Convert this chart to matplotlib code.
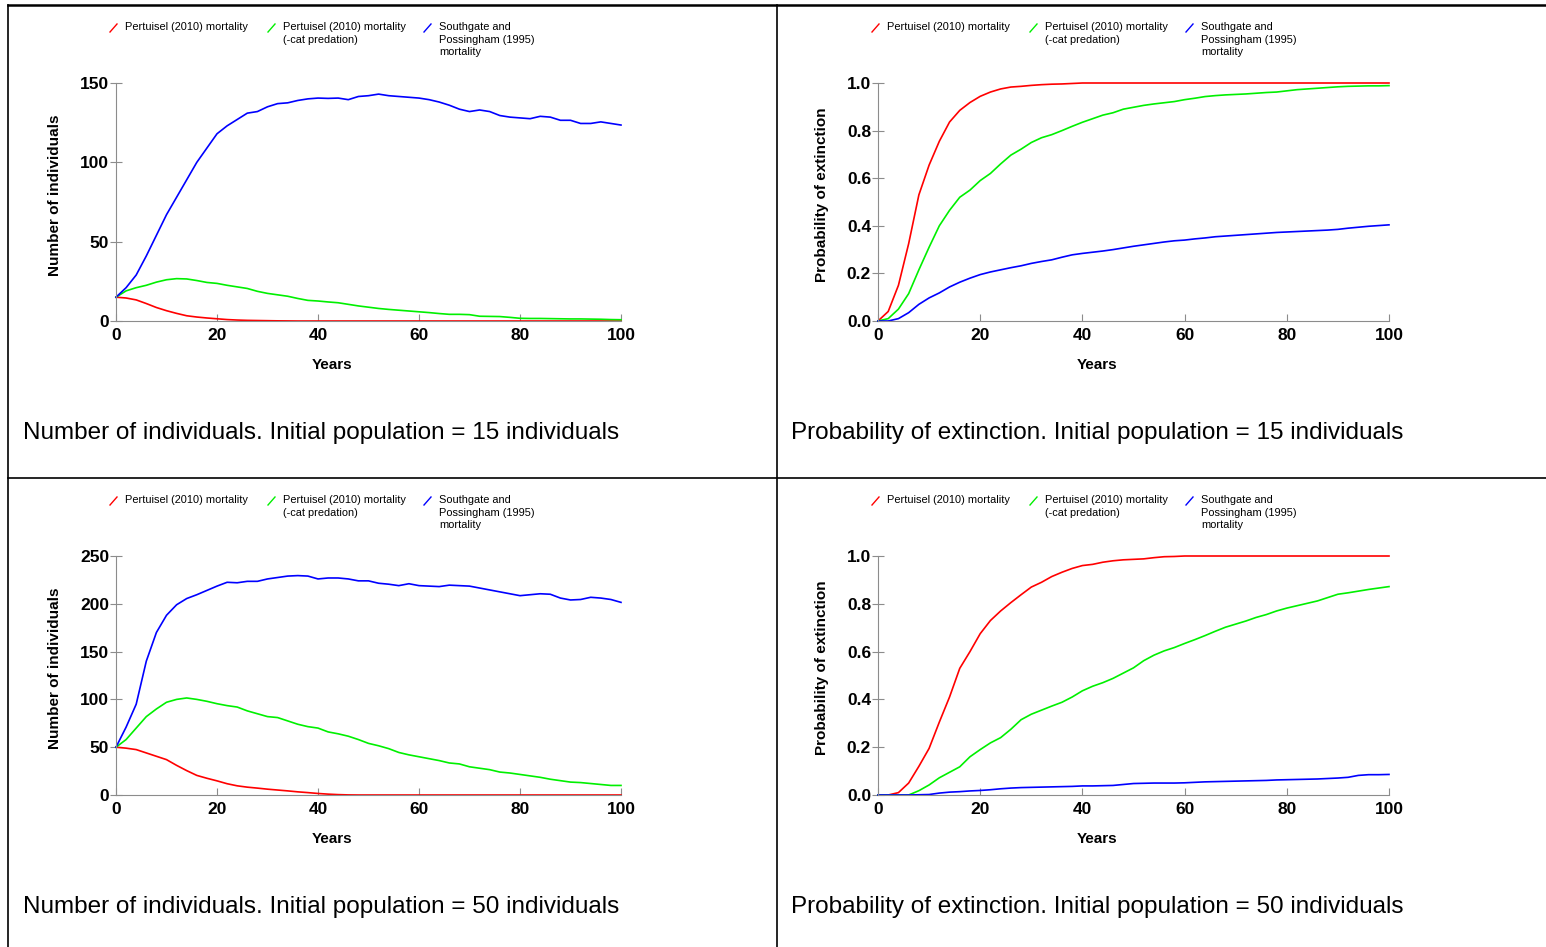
import matplotlib
matplotlib.use("Agg")
import matplotlib.pyplot as plt
from matplotlib.lines import Line2D

plt.rcParams["font.family"] = ["Liberation Sans", "DejaVu Sans"]

years = list(range(0, 101, 2))

# initial population 15 - number of individuals
n15_red = [15, 14.5, 13.3, 11, 8.5, 6.5, 4.8, 3.3, 2.5, 1.9, 1.4, 0.9, 0.6, 0.4, 0.3, 0.2, 0.1, 0.05] + [0] * 33
n15_green = [15, 19, 21, 22.5, 24.5, 26, 26.7, 26.5, 25.5, 24.3, 23.7, 22.5, 21.5, 20.5, 18.7, 17.4, 16.5,
             15.6, 14.2, 13, 12.6, 12, 11.5, 10.5, 9.5, 8.7, 7.9, 7.3, 6.8, 6.3, 5.8, 5.3, 4.7, 4.2, 4.2, 4,
             3, 2.9, 2.8, 2.3, 1.7, 1.6, 1.6, 1.5, 1.4, 1.3, 1.3, 1.2, 1.1, 0.9, 0.8]
n15_blue = [15, 21, 29, 41, 54, 67, 78, 89, 100, 109, 118, 123, 127, 131, 132, 135, 137, 137.5, 139, 140,
            140.5, 140.3, 140.5, 139.5, 141.5, 142, 143, 142, 141.5, 141, 140.5, 139.5, 138, 136, 133.5,
            132, 133, 132, 129.5, 128.5, 128, 127.5, 129, 128.5, 126.5, 126.5, 124.5, 124.5, 125.5, 124.5,
            123.5]

# initial population 15 - probability of extinction
p15_red = [0, 0.04, 0.15, 0.325, 0.53, 0.655, 0.755, 0.836, 0.885, 0.918, 0.944, 0.962, 0.975, 0.983,
           0.986, 0.99, 0.993, 0.995, 0.996, 0.998] + [1.0] * 31
p15_green = [0, 0.01, 0.05, 0.115, 0.215, 0.31, 0.40, 0.465, 0.52, 0.55, 0.59, 0.62, 0.66, 0.697, 0.722,
             0.75, 0.77, 0.783, 0.8, 0.818, 0.835, 0.85, 0.865, 0.875, 0.89, 0.898, 0.906, 0.912, 0.917,
             0.922, 0.93, 0.936, 0.943, 0.947, 0.95, 0.952, 0.954, 0.957, 0.96, 0.962, 0.967, 0.972,
             0.975, 0.978, 0.981, 0.984, 0.986, 0.987, 0.988, 0.988, 0.989]
p15_blue = [0, 0, 0.01, 0.035, 0.07, 0.097, 0.118, 0.143, 0.163, 0.18, 0.195, 0.206, 0.215, 0.224, 0.232,
            0.242, 0.25, 0.257, 0.268, 0.278, 0.284, 0.289, 0.294, 0.3, 0.307, 0.314, 0.32, 0.326, 0.332,
            0.337, 0.34, 0.345, 0.349, 0.354, 0.357, 0.36, 0.363, 0.366, 0.369, 0.372, 0.374, 0.376,
            0.378, 0.38, 0.382, 0.385, 0.39, 0.394, 0.398, 0.401, 0.404]

# initial population 50 - number of individuals
n50_red = [50, 49, 47.5, 44, 40.5, 37, 31, 25.5, 20.5, 17.5, 14.8, 11.8, 9.6, 8.2, 7.2, 6.1, 5.2, 4.3,
           3.3, 2.5, 1.6, 0.9, 0.4, 0.1] + [0] * 27
n50_green = [50, 58, 70, 82, 90, 97, 100, 101.5, 100, 98, 95.5, 93.5, 92, 88, 85, 82, 81, 77.5, 74, 71.5,
             70, 66, 64, 61.5, 58, 54, 51.5, 48.5, 44.5, 42, 40, 38, 36, 33.5, 32.5, 29.5, 28, 26.5, 24,
             23, 21.5, 20, 18.5, 16.5, 15, 13.5, 13, 12, 11, 10, 10]
n50_blue = [50, 71, 95, 140, 170, 188, 199, 205.5, 209.5, 214, 218.5, 222.5, 222, 223.5, 223.5, 226,
            227.5, 229, 229.5, 229, 226, 227, 227, 226, 224, 224, 221.5, 220.5, 219, 221, 219, 218.5,
            218, 219.5, 219, 218.5, 216.5, 214.5, 212.5, 210.5, 208.5, 209.5, 210.5, 210, 206, 204,
            204.5, 206.8, 206, 204.5, 201.5]

# initial population 50 - probability of extinction
p50_red = [0, 0, 0.01, 0.05, 0.12, 0.195, 0.305, 0.41, 0.53, 0.6, 0.675, 0.73, 0.77, 0.805, 0.838, 0.87,
           0.89, 0.914, 0.932, 0.948, 0.96, 0.965, 0.974, 0.98, 0.984, 0.986, 0.988, 0.993, 0.997,
           0.998] + [1.0] * 21
p50_green = [0, 0, 0, 0, 0.018, 0.042, 0.072, 0.095, 0.118, 0.16, 0.19, 0.218, 0.24, 0.275, 0.315,
             0.338, 0.355, 0.372, 0.388, 0.41, 0.436, 0.455, 0.47, 0.488, 0.51, 0.532, 0.562, 0.585,
             0.603, 0.617, 0.634, 0.65, 0.667, 0.685, 0.702, 0.715, 0.728, 0.743, 0.755, 0.77, 0.782,
             0.792, 0.802, 0.812, 0.826, 0.84, 0.846, 0.853, 0.86, 0.866, 0.872]
p50_blue = [0, 0, 0, 0, 0.001, 0.002, 0.008, 0.012, 0.014, 0.017, 0.019, 0.022, 0.026, 0.029, 0.031,
            0.032, 0.033, 0.034, 0.035, 0.036, 0.038, 0.038, 0.039, 0.04, 0.044, 0.048, 0.049, 0.05,
            0.05, 0.05, 0.051, 0.053, 0.055, 0.056, 0.057, 0.058, 0.059, 0.06, 0.061, 0.063, 0.064,
            0.065, 0.066, 0.067, 0.069, 0.071, 0.074, 0.082, 0.085, 0.085, 0.086]

labels = ["Pertuisel (2010) mortality",
          "Pertuisel (2010) mortality\n(-cat predation)",
          "Southgate and\nPossingham (1995)\nmortality"]
colors = ["#ff0000", "#00f000", "#0000ff"]

W, H = 1546, 947
fig = plt.figure(figsize=(W / 100, H / 100), dpi=100)

panels = [
    # px box (left, top, right, bottom), series, yticks, fmt, ylabel, ylabel offset, caption, caption x, y
    ((116, 83, 621, 321), [n15_red, n15_green, n15_blue], [0, 50, 100, 150], "{:.0f}",
     "Number of individuals", 61, "Number of individuals. Initial population = 15 individuals", 23, 433),
    ((878, 83, 1389, 321), [p15_red, p15_green, p15_blue], [0, 0.2, 0.4, 0.6, 0.8, 1.0], "{:.1f}",
     "Probability of extinction", 56, "Probability of extinction. Initial population = 15 individuals", 791, 433),
    ((116, 556, 621, 795), [n50_red, n50_green, n50_blue], [0, 50, 100, 150, 200, 250], "{:.0f}",
     "Number of individuals", 61, "Number of individuals. Initial population = 50 individuals", 23, 907),
    ((878, 556, 1389, 795), [p50_red, p50_green, p50_blue], [0, 0.2, 0.4, 0.6, 0.8, 1.0], "{:.1f}",
     "Probability of extinction", 56, "Probability of extinction. Initial population = 50 individuals", 791, 907),
]

for (l, t, r, b), series, yt, fmt, ylab, yoff, cap, capx, capy in panels:
    ax = fig.add_axes([l / W, 1 - b / H, (r - l) / W, (b - t) / H])
    for s, c in zip(series, colors):
        ax.plot(years, s, color=c, lw=1.2, clip_on=False)
    ax.set_xlim(0, 100)
    ax.set_ylim(yt[0], yt[-1])
    ax.set_xticks([0, 20, 40, 60, 80, 100])
    ax.set_yticks(yt)
    ax.set_yticklabels([fmt.format(v) for v in yt])
    for sp in ["top", "right"]:
        ax.spines[sp].set_visible(False)
    for sp in ["left", "bottom"]:
        ax.spines[sp].set_color("#8c8c8c")
        ax.spines[sp].set_linewidth(0.8)
    ax.tick_params(axis="y", direction="inout", length=8, width=0.8, color="#8c8c8c", pad=1)
    ax.tick_params(axis="x", direction="in", length=5, width=0.8, color="#8c8c8c", pad=5)
    for lab in ax.get_xticklabels() + ax.get_yticklabels():
        lab.set_fontweight("bold")
        lab.set_fontsize(12.5)
    ax.text(0.428, -0.185, "Years", transform=ax.transAxes, ha="center", va="center",
            fontsize=11, fontweight="bold")
    ax.text(-yoff / (r - l), (b - 195 - (t - 83)) / (b - t), ylab, transform=ax.transAxes,
            rotation=90, ha="center", va="center", fontsize=11, fontweight="bold")
    # legend above each plot
    lx = [l - 6, l + 152, l + 308]
    for x0, lab, c in zip(lx, labels, colors):
        ty = t - 55
        fig.add_artist(Line2D([x0 / W, (x0 + 7) / W], [1 - (ty + 4) / H, 1 - (ty - 4) / H],
                              color=c, lw=1.0))
        fig.text((x0 + 15) / W, 1 - (ty - 6) / H, lab, ha="left", va="top",
                 fontsize=7.9, linespacing=1.32)
    fig.text(capx / W, 1 - capy / H, cap, ha="left", va="center", fontsize=17.5)

# panel frame lines
k = dict(color="black", lw=1.2)
fig.add_artist(Line2D([8 / W, 1], [1 - 5 / H, 1 - 5 / H], color="black", lw=1.8))
fig.add_artist(Line2D([8 / W, 8 / W], [0, 1 - 5 / H], **k))
fig.add_artist(Line2D([777 / W, 777 / W], [0, 1 - 5 / H], **k))
fig.add_artist(Line2D([8 / W, 1], [1 - 478 / H, 1 - 478 / H], **k))

fig.savefig("out.png", dpi=100)
